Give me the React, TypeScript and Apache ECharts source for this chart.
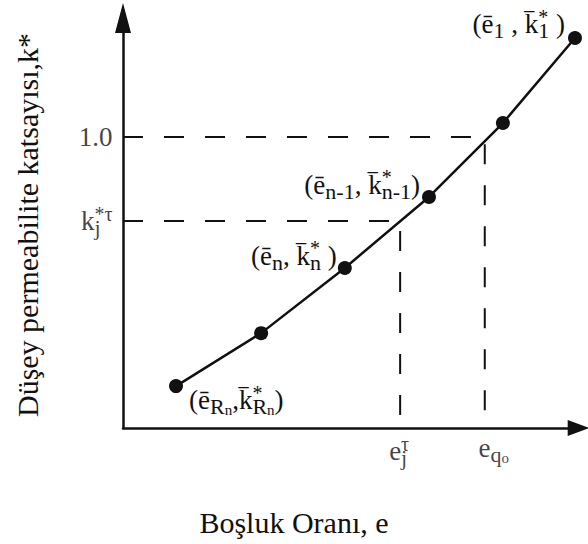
import React, { useEffect, useRef } from "react";
import * as echarts from "echarts";

// Void ratio (e) and vertical permeability coefficient (k*) of the measured points
const eVals = [11.4, 29.7, 47.7, 65.8, 81.7, 97.2];
const kVals = [0.144, 0.326, 0.55, 0.794, 1.048, 1.34];
const pointLabels = [
  "{m|(ē}{sub|R}{subsub|n}{m|,}{bar|‾}{m|k}{supz|*}{sub|R}{subsub|n}{m|)}",
  "",
  "{m|(ē}{sub|n}{m|, }{bar|‾}{m|k}{supz|*}{sub|n}{m| )}",
  "{m|(ē}{sub|n-1}{m|, }{bar|‾}{m|k}{supz|*}{sub|n-1}{m|)}",
  "",
  "{m|(ē}{sub|1}{m| , }{bar|‾}{m|k}{supz|*}{sub|1}{m| )}",
];

// Reference levels
const kRef = 1.0;
const eQ0 = 77.8;
const kJ = 0.711;
const eJ = 59.6;
const kRefLabel = "{m|1.0}";
const kJLabel = "{m|k}{subz|j}{sup|*τ}";
const eJLabel = "{m|e}{subz|j}{sup|τ}";
const eQ0Label = "{m|e}{sub|q}{subsub|o}";

const xTitle = "Boşluk Oranı, e";
const yTitle = "Düşey permeabilite katsayısı,k*";

const FONT = "Liberation Serif";
const INK = "#111";

const base = { fontFamily: FONT, color: INK, align: "left" };
const rich = {
  m: { ...base, fontSize: 27, lineHeight: 35 },
  bar: { ...base, fontSize: 27, lineHeight: 35, width: 0 },
  sub: { ...base, fontSize: 22, lineHeight: 18, verticalAlign: "bottom" },
  subz: { ...base, fontSize: 22, lineHeight: 18, verticalAlign: "bottom", width: 0 },
  subsub: { ...base, fontSize: 15, lineHeight: 10, verticalAlign: "bottom" },
  sup: { ...base, fontSize: 20, lineHeight: 17, verticalAlign: "top" },
  supz: { ...base, fontSize: 20, lineHeight: 17, verticalAlign: "top", width: 0 },
};

// Label placement for each measured point
const pointLabelPlacement = [
  { position: "right", distance: 6, offset: [0, 14] },
  null,
  { position: "left", distance: 1, offset: [0, -12] },
  { position: "left", distance: 2, offset: [0, -12] },
  null,
  { position: "left", distance: 3, offset: [0, -14] },
];

export default function App() {
  const ref = useRef<HTMLDivElement>(null);

  useEffect(() => {
    if (!ref.current) return;
    const chart = echarts.init(ref.current, undefined, { renderer: "svg" });

    const curveData = eVals.map((e, i) => {
      const place = pointLabelPlacement[i];
      const item: any = { value: [e, kVals[i]] };
      if (place && pointLabels[i]) {
        item.label = {
          show: true,
          position: place.position,
          distance: place.distance,
          offset: place.offset,
          formatter: pointLabels[i],
          rich,
        };
      }
      return item;
    });

    const dashed = {
      type: [20, 21] as any,
      width: 2,
      color: INK,
    };

    chart.setOption({
      animation: false,
      backgroundColor: "#fff",
      textStyle: { fontFamily: FONT },
      grid: { left: 123, right: 9.3, top: 20.6, bottom: 116, containLabel: false },
      xAxis: {
        type: "value",
        min: 0,
        max: 98,
        axisLine: {
          show: true,
          symbol: ["none", "triangle"],
          symbolSize: [16, 22],
          lineStyle: { color: INK, width: 2.5 },
        },
        axisTick: { show: false },
        axisLabel: { show: false },
        splitLine: { show: false },
      },
      yAxis: {
        type: "value",
        min: 0,
        max: 1.4,
        axisLine: {
          show: true,
          symbol: ["none", "triangle"],
          symbolSize: [16, 30],
          symbolOffset: [0, 2.6],
          lineStyle: { color: INK, width: 2.5 },
        },
        axisTick: { show: false },
        axisLabel: { show: false },
        splitLine: { show: false },
      },
      series: [
        {
          type: "line",
          data: [
            [0, kRef],
            [eQ0, kRef],
            [eQ0, 0],
          ],
          symbol: "none",
          lineStyle: dashed,
          z: 1,
        },
        {
          type: "line",
          data: [
            [0, kJ],
            [eJ, kJ],
            [eJ, 0],
          ],
          symbol: "none",
          lineStyle: dashed,
          z: 1,
        },
        {
          type: "line",
          data: curveData,
          symbol: "circle",
          symbolSize: 14,
          showSymbol: true,
          itemStyle: { color: INK },
          lineStyle: { color: INK, width: 2.5 },
          z: 3,
        },
        {
          type: "scatter",
          symbol: "circle",
          symbolSize: 1,
          itemStyle: { color: "transparent" },
          z: 4,
          data: [
            { value: [0, kRef], label: { show: true, position: "left", distance: 10, formatter: kRefLabel, rich } },
            { value: [0, kJ], label: { show: true, position: "left", distance: 10, formatter: kJLabel, rich } },
            { value: [eJ, 0], label: { show: true, position: "bottom", distance: 5, offset: [-1, 0], formatter: eJLabel, rich } },
            { value: [eQ0, 0], label: { show: true, position: "bottom", distance: 2, offset: [9, 0], formatter: eQ0Label, rich } },
          ],
        },
      ],
      graphic: [
        {
          type: "text",
          x: 294,
          y: 522,
          style: {
            text: xTitle,
            font: "30px Liberation Serif",
            fill: INK,
            align: "center",
            verticalAlign: "middle",
          },
        },
        {
          type: "text",
          x: 27,
          y: 225,
          rotation: Math.PI / 2,
          style: {
            text: yTitle,
            font: "30px Liberation Serif",
            fill: INK,
            align: "center",
            verticalAlign: "middle",
          },
        },
      ],
    });

    return () => chart.dispose();
  }, []);

  return (
    <div
      ref={ref}
      style={{ position: "absolute", left: 0, top: 0, width: 588, height: 544, background: "#fff" }}
    />
  );
}
